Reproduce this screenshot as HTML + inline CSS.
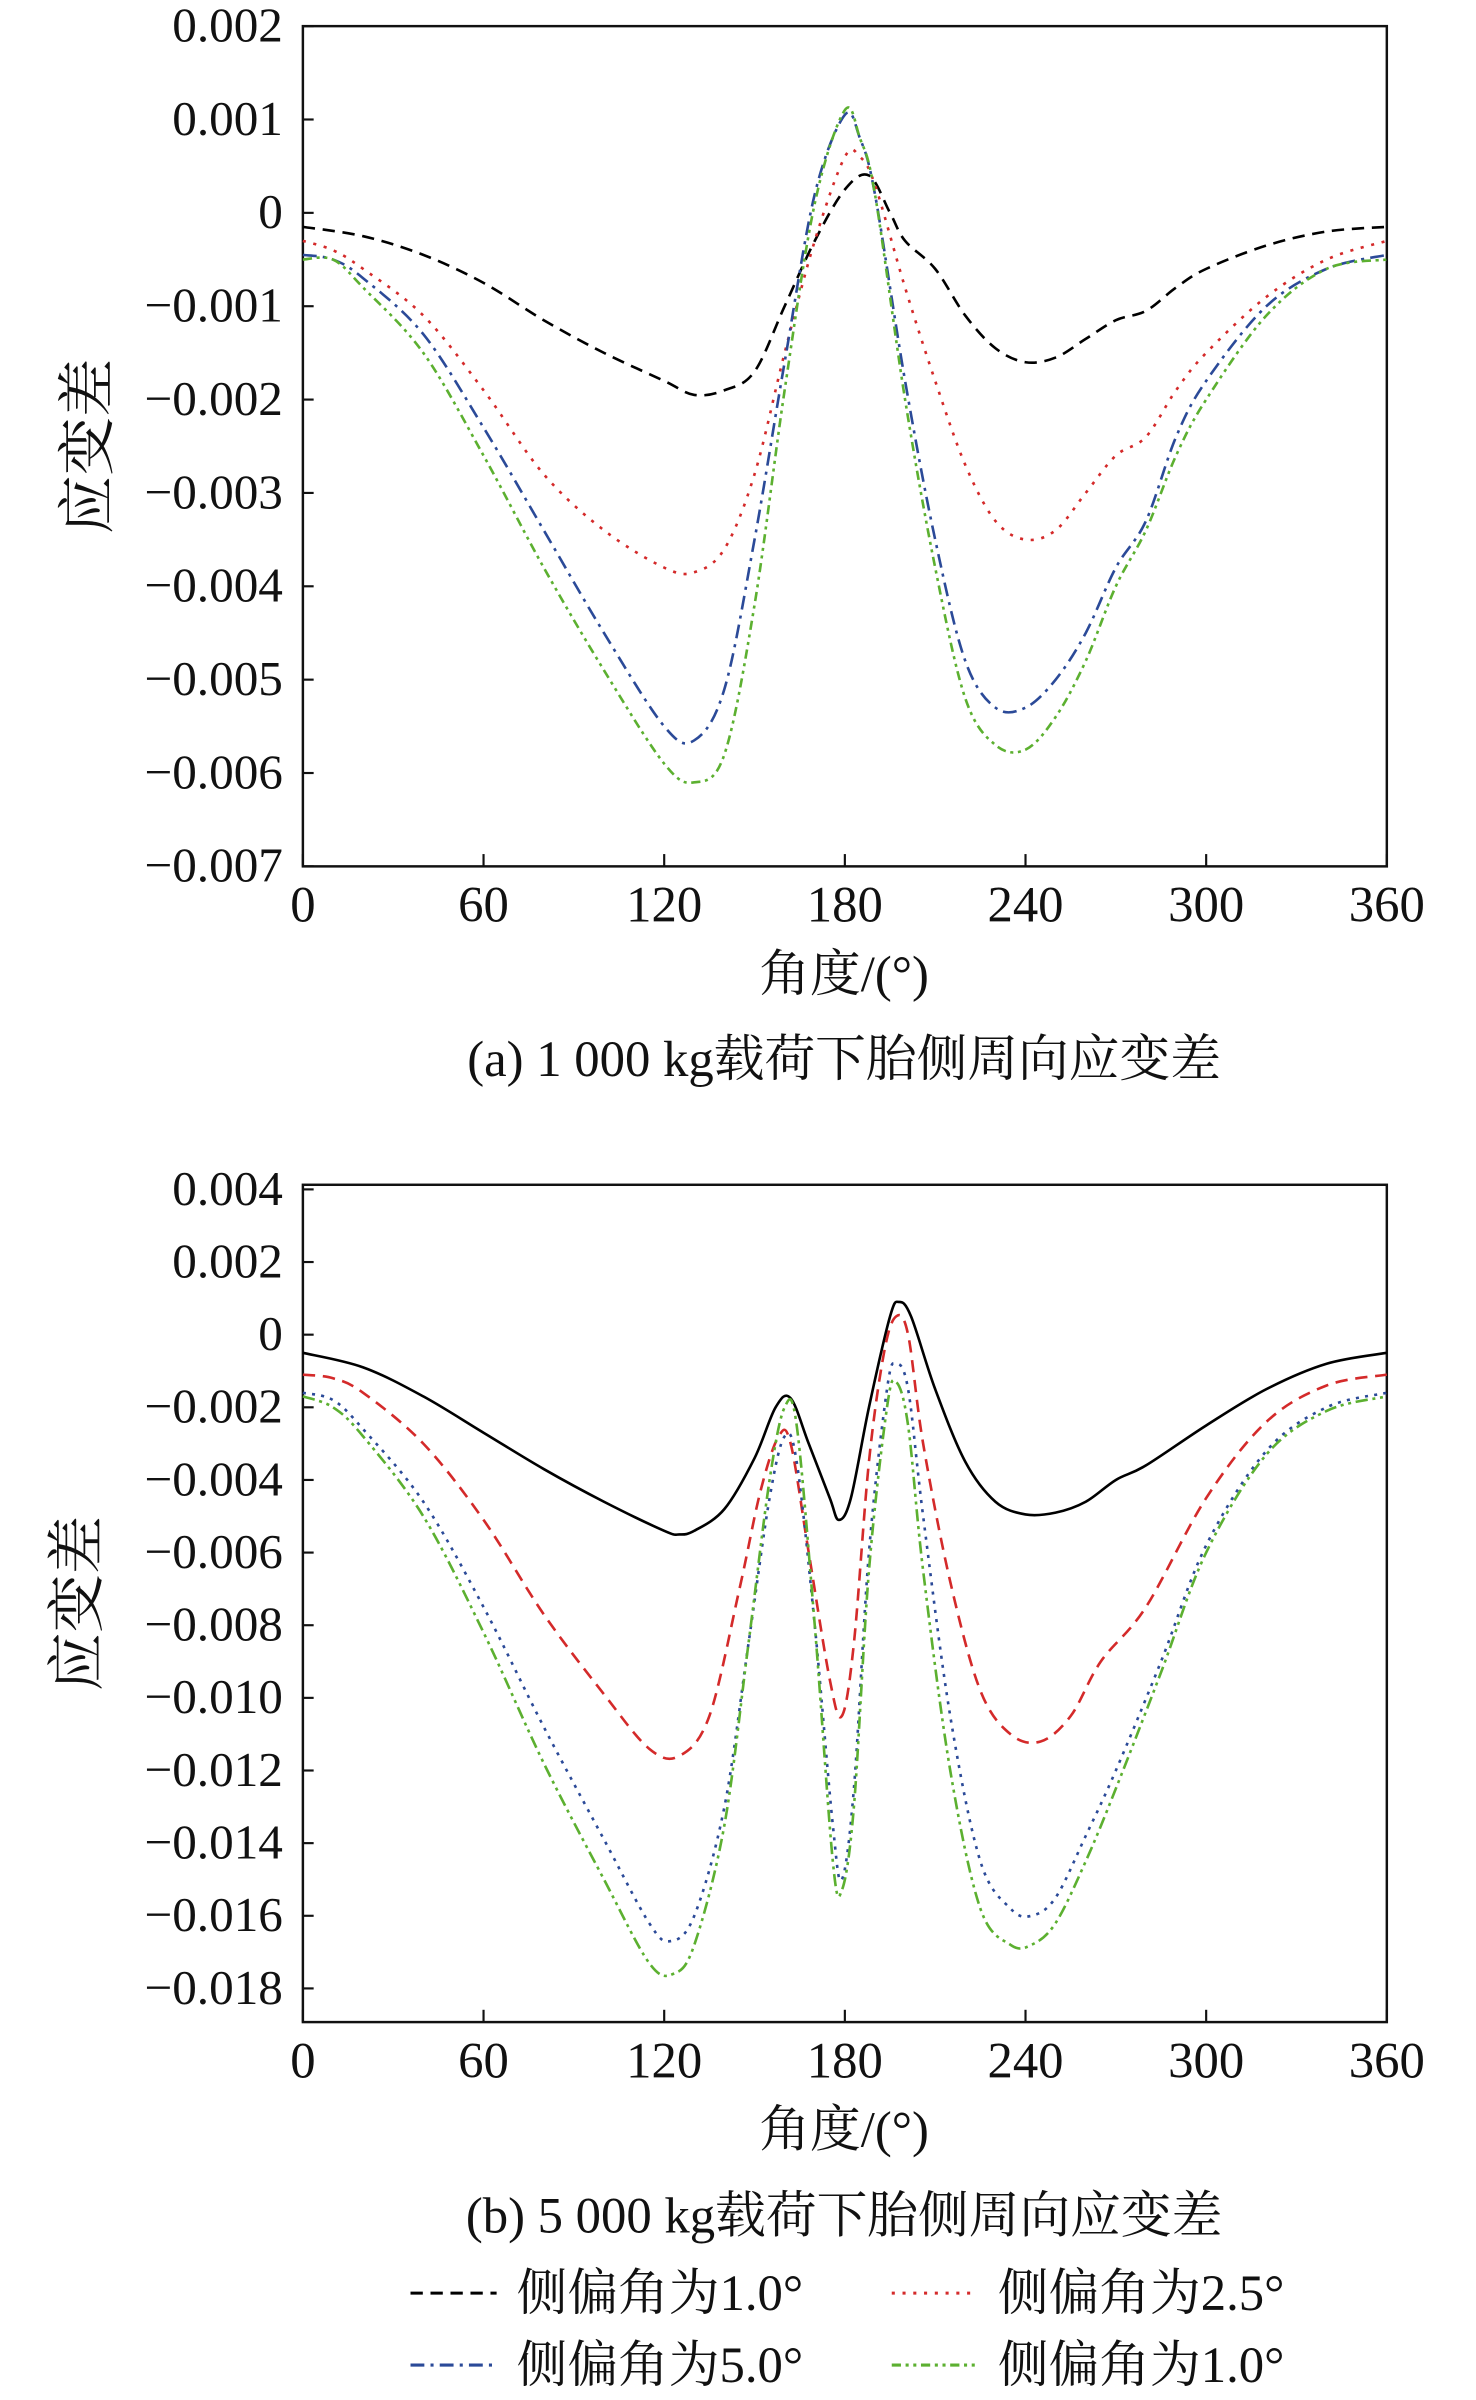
<!DOCTYPE html>
<html><head><meta charset="utf-8"><style>
html,body{margin:0;padding:0;background:#fff;}
svg{display:block;}
text{font-family:"Liberation Serif","Noto Serif CJK SC",serif;fill:#111;}
</style></head><body>
<svg id="fig" width="1476" height="2400" viewBox="0 0 960 1561" preserveAspectRatio="none" xmlns="http://www.w3.org/2000/svg">
<g id="pa"></g>
<g id="pb"></g>
<g id="legend"></g>
</svg>
<script>
const xTicks=[0,60,120,180,240,300,360];
const aYTicks=[0.002,0.001,0,-0.001,-0.002,-0.003,-0.004,-0.005,-0.006,-0.007];
const aYLabels=["0.002","0.001","0","−0.001","−0.002","−0.003","−0.004","−0.005","−0.006","−0.007"];
const bYTicks=[0.004,0.002,0,-0.002,-0.004,-0.006,-0.008,-0.010,-0.012,-0.014,-0.016,-0.018];
const bYLabels=["0.004","0.002","0","−0.002","−0.004","−0.006","−0.008","−0.010","−0.012","−0.014","−0.016","−0.018"];
const legendLabels=["侧偏角为1.0°","侧偏角为2.5°","侧偏角为5.0°","侧偏角为1.0°"];
// chart a (×1e-3)
const aBlackX=[0,20,40,60,80,100,120,130,140,150,160,170,180,188,195,200,210,220,230,240,250,260,270,280,290,300,320,340,360];
const aBlackY=[-0.15,-0.25,-0.45,-0.75,-1.15,-1.5,-1.8,-1.95,-1.9,-1.7,-1.0,-0.3,0.25,0.4,0.0,-0.3,-0.6,-1.1,-1.45,-1.6,-1.55,-1.35,-1.15,-1.05,-0.8,-0.6,-0.35,-0.2,-0.15];
const aRedX=[0,10,20,40,60,80,100,120,130,140,150,160,170,180,185,190,200,210,220,230,240,250,260,270,280,290,300,320,340,360];
const aRedY=[-0.3,-0.4,-0.6,-1.1,-1.9,-2.8,-3.4,-3.8,-3.85,-3.6,-2.8,-1.5,-0.3,0.6,0.6,0.3,-0.8,-1.8,-2.7,-3.3,-3.5,-3.4,-3.0,-2.6,-2.4,-1.9,-1.5,-0.9,-0.5,-0.3];
const aBlueX=[0,10,20,40,60,80,100,120,130,140,150,160,170,180,185,190,200,210,220,230,240,250,260,270,280,290,300,320,340,360];
const aBlueY=[-0.45,-0.5,-0.7,-1.3,-2.3,-3.4,-4.5,-5.5,-5.65,-5.1,-3.5,-1.6,0.2,1.05,0.8,0.2,-1.8,-3.5,-4.8,-5.3,-5.3,-5.0,-4.5,-3.8,-3.3,-2.4,-1.8,-1.0,-0.6,-0.45];
const aGreenX=[0,10,20,40,60,80,100,120,130,140,150,160,170,180,185,190,200,210,220,230,240,250,260,270,280,290,300,320,340,360];
const aGreenY=[-0.5,-0.5,-0.8,-1.5,-2.6,-3.8,-4.9,-5.9,-6.1,-5.8,-4.2,-1.9,0.1,1.1,0.8,0.2,-2.0,-3.8,-5.2,-5.7,-5.75,-5.4,-4.8,-4.0,-3.4,-2.6,-2.0,-1.1,-0.6,-0.5];
// chart b (×1e-3)
const bBlackX=[0,20,40,60,80,100,120,125,130,140,150,157,162,168,175,178,182,188,195,198,202,210,220,230,240,250,260,270,280,300,320,340,360];
const bBlackY=[-0.5,-0.9,-1.7,-2.7,-3.7,-4.6,-5.4,-5.5,-5.4,-4.8,-3.4,-2.0,-1.75,-3.0,-4.5,-5.1,-4.5,-2.0,0.5,0.9,0.5,-1.5,-3.5,-4.6,-4.95,-4.9,-4.6,-4.0,-3.6,-2.5,-1.5,-0.8,-0.5];
const bRedX=[0,10,20,40,60,80,100,115,125,135,145,152,158,162,168,175,179,183,188,193,197,201,206,215,225,235,245,255,265,280,300,320,340,360];
const bRedY=[-1.1,-1.2,-1.6,-3.0,-5.1,-7.7,-9.9,-11.4,-11.6,-10.5,-7.0,-4.3,-2.8,-3.0,-6.0,-9.5,-10.5,-8.5,-3.5,-0.5,0.5,0.0,-3.0,-6.8,-9.8,-11.0,-11.2,-10.5,-9.0,-7.5,-4.5,-2.4,-1.4,-1.1];
const bBlueX=[0,10,20,40,60,80,100,115,122,130,140,148,155,160,164,170,176,179,183,188,194,197,201,206,215,225,235,242,250,260,270,285,300,320,340,360];
const bBlueY=[-1.6,-1.8,-2.6,-4.6,-7.5,-10.8,-13.9,-16.2,-16.7,-16.0,-13.0,-8.5,-4.5,-2.8,-3.5,-8.0,-13.5,-15.0,-12.5,-6.0,-1.5,-0.8,-1.5,-5.0,-10.5,-14.5,-15.8,-16.0,-15.5,-13.8,-12.0,-9.0,-5.8,-3.2,-2.0,-1.6];
const bGreenX=[0,10,20,40,60,80,100,115,123,130,140,148,155,160,164,170,176,179,183,188,194,197,201,206,215,225,235,242,250,260,270,285,300,320,340,360];
const bGreenY=[-1.7,-2.0,-2.8,-5.0,-8.2,-11.8,-15.0,-17.3,-17.6,-16.8,-13.5,-8.5,-4.0,-2.0,-2.5,-8.0,-14.5,-15.3,-13.0,-6.5,-2.0,-1.3,-2.5,-6.5,-12.0,-15.8,-16.8,-16.8,-16.2,-14.5,-12.5,-9.3,-6.0,-3.3,-2.1,-1.7];

const NS="http://www.w3.org/2000/svg";
function mk(tag,attrs,parent,txt){const e=document.createElementNS(NS,tag);for(const k in attrs)e.setAttribute(k,attrs[k]);if(txt!==undefined)e.textContent=txt;parent.appendChild(e);return e;}
function smooth(pts){let d="M"+pts[0][0]+","+pts[0][1];for(let i=0;i<pts.length-1;i++){const p0=pts[Math.max(0,i-1)],p1=pts[i],p2=pts[i+1],p3=pts[Math.min(pts.length-1,i+2)];const c1=[p1[0]+(p2[0]-p0[0])/6,p1[1]+(p2[1]-p0[1])/6],c2=[p2[0]-(p3[0]-p1[0])/6,p2[1]-(p3[1]-p1[1])/6];d+=" C"+c1+" "+c2+" "+p2;}return d;}
const COLORS={black:"#000",red:"#d42a2a",blue:"#2b4a98",green:"#5cb030"};

function chart(g,cfg){
  const L=197,R=902,T=cfg.top,B=cfg.bottom;
  const xs=v=>L+(v/360)*(R-L);
  const ys=v=>cfg.y0px+(cfg.yMax-v)/(cfg.yMax-cfg.yMin)*(cfg.y1px-cfg.y0px);
  const f=mk("rect",{x:L,y:T,width:R-L,height:B-T,fill:"none",stroke:"#111","stroke-width":1.6},g);
  
  
  cfg.yTicks.forEach((v,i)=>{const y=ys(v);
    const t=mk("line",{x1:L,x2:L+7,y1:y,y2:y,stroke:"#111","stroke-width":1.4},g);
    
    
    const lb=mk("text",{x:184,y:y+10,"text-anchor":"end","font-size":32},g,cfg.yLabels[i]);
    
    
  });
  xTicks.forEach(v=>{const x=xs(v);
    const t=mk("line",{x1:x,x2:x,y1:B,y2:B-8,stroke:"#111","stroke-width":1.4},g);
    
    
    const lb=mk("text",{x:x,y:B+36,"text-anchor":"middle","font-size":33},g,String(v));
    
    
  });
  const xt=mk("text",{x:549,y:B+81,"text-anchor":"middle","font-size":33},g,"角度/(°)");
  
  
  const yt=mk("text",{x:0,y:0,"text-anchor":"middle","font-size":38,transform:"translate("+(cfg.ylabX)+","+((T+B)/2)+") rotate(-90)"},g,"应变差");
  
  
  const cp=mk("text",{x:549,y:cfg.capY,"text-anchor":"middle","font-size":33},g,cfg.caption);
  
  
  cfg.series.forEach(s=>{
    const pts=s.x.map((a,i)=>[+xs(a).toFixed(2),+ys(s.y[i]/1000).toFixed(2)]);
    const p=mk("path",{d:smooth(pts),fill:"none",stroke:COLORS[s.c],"stroke-width":1.7,"stroke-dasharray":s.dash},g);
    
    
  });
}
chart(document.getElementById("pa"),{top:17,bottom:563.5,y0px:17,y1px:563.5,yMax:0.002,yMin:-0.007,yTicks:aYTicks,yLabels:aYLabels,ylabX:70,capY:700,caption:"(a) 1 000 kg载荷下胎侧周向应变差",
 series:[{x:aBlackX,y:aBlackY,c:"black",dash:"8,5",name:"line-1.0deg-a"},{x:aRedX,y:aRedY,c:"red",dash:"2,5",name:"line-2.5deg-a"},{x:aBlueX,y:aBlueY,c:"blue",dash:"9,4,2,4",name:"line-5.0deg-a"},{x:aGreenX,y:aGreenY,c:"green",dash:"6,3,2,3,2,3",name:"line-1.0deg-green-a"}]});
chart(document.getElementById("pb"),{top:770.6,bottom:1315.2,y0px:773.6,y1px:1293.3,yMax:0.004,yMin:-0.018,yTicks:bYTicks,yLabels:bYLabels,ylabX:63,capY:1452,caption:"(b) 5 000 kg载荷下胎侧周向应变差",
 series:[{x:bBlackX,y:bBlackY,c:"black",dash:"none",name:"line-1.0deg-b"},{x:bRedX,y:bRedY,c:"red",dash:"8,5",name:"line-2.5deg-b"},{x:bBlueX,y:bBlueY,c:"blue",dash:"2,4",name:"line-5.0deg-b"},{x:bGreenX,y:bGreenY,c:"green",dash:"8,3,2,3,2,3",name:"line-1.0deg-green-b"}]});
const lg=document.getElementById("legend");
const legItems=[{x:267,y:1491.5,c:"black",dash:"8,5"},{x:580,y:1491.5,c:"red",dash:"2,5"},{x:267,y:1538.3,c:"blue",dash:"9,4,2,4"},{x:580,y:1538.3,c:"green",dash:"6,3,2,3,2,3"}];
legItems.forEach((it,i)=>{
  const l=mk("line",{x1:it.x,x2:it.x+56,y1:it.y,y2:it.y,stroke:COLORS[it.c],"stroke-width":2,"stroke-dasharray":it.dash},lg);
  
  
  const t=mk("text",{x:it.x+69,y:it.y+11,"font-size":33},lg,legendLabels[i]);
  
  
});
</script>
</body></html>
